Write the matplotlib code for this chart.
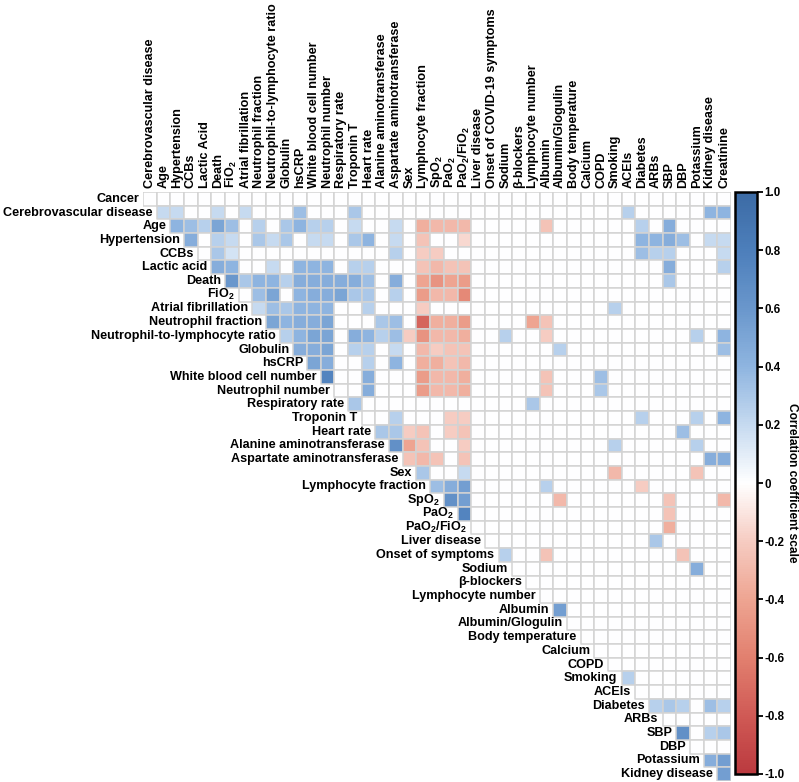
import matplotlib
matplotlib.use("Agg")
import matplotlib.pyplot as plt
import numpy as np
from matplotlib.colors import LinearSegmentedColormap, Normalize
from matplotlib.patches import Rectangle
from matplotlib.collections import PatchCollection

plt.rcParams['font.family'] = ['Liberation Sans', 'DejaVu Sans']
plt.rcParams['font.weight'] = 'bold'
plt.rcParams['mathtext.fontset'] = 'custom'
plt.rcParams['mathtext.rm'] = 'Liberation Sans:bold'
plt.rcParams['mathtext.bf'] = 'Liberation Sans:bold'
plt.rcParams['mathtext.it'] = 'Liberation Sans:bold:italic'

row_labels = ["Cancer", "Cerebrovascular disease", "Age", "Hypertension", "CCBs",
              "Lactic acid", "Death", "FiO$_2$", "Atrial fibrillation",
              "Neutrophil fraction", "Neutrophil-to-lymphocyte ratio", "Globulin",
              "hsCRP", "White blood cell number", "Neutrophil number",
              "Respiratory rate", "Troponin T", "Heart rate",
              "Alanine aminotransferase", "Aspartate aminotransferase", "Sex",
              "Lymphocyte fraction", "SpO$_2$", "PaO$_2$", "PaO$_2$/FiO$_2$",
              "Liver disease", "Onset of symptoms", "Sodium", "β-blockers",
              "Lymphocyte number", "Albumin", "Albumin/Glogulin", "Body temperature",
              "Calcium", "COPD", "Smoking", "ACEIs", "Diabetes", "ARBs", "SBP",
              "DBP", "Potassium", "Kidney disease"]

col_labels = ["Cerebrovascular disease", "Age", "Hypertension", "CCBs", "Lactic Acid",
              "Death", "FiO$_2$", "Atrial fibrillation", "Neutrophil fraction",
              "Neutrophil-to-lymphocyte ratio", "Globulin", "hsCRP",
              "White blood cell number", "Neutrophil number", "Respiratory rate",
              "Troponin T", "Heart rate", "Alanine aminotransferase",
              "Aspartate aminotransferase", "Sex", "Lymphocyte fraction", "SpO$_2$",
              "PaO$_2$", "PaO$_2$/FiO$_2$", "Liver disease",
              "Onset of COVID-19 symptoms", "Sodium", "β-blockers",
              "Lymphocyte number", "Albumin", "Albumin/Glogulin", "Body temperature",
              "Calcium", "COPD", "Smoking", "ACEIs", "Diabetes", "ARBs", "SBP", "DBP",
              "Potassium", "Kidney disease", "Creatinine"]

# one dict per row: column index -> correlation (cells not listed are ~0)
corr = [
    {},
    {1: .2, 2: .2, 5: .2, 7: .2, 11: .35, 15: .3, 35: .25, 41: .4, 42: .4},
    {2: .4, 3: .35, 4: .25, 5: .5, 6: .35, 8: .25, 10: .3, 11: .4, 12: .25, 13: .25,
     15: .2, 18: .2, 20: -.35, 21: -.3, 22: -.3, 23: -.3, 29: -.25, 36: .25, 38: .45},
    {3: .45, 5: .25, 6: .2, 8: .3, 9: .2, 10: .3, 12: .2, 13: .2, 15: .3, 16: .4,
     18: .2, 20: -.25, 23: -.15, 36: .4, 37: .4, 38: .45, 39: .35, 41: .2, 42: .2},
    {5: .3, 6: .15, 18: .25, 20: -.2, 21: -.2, 36: .35, 37: .25, 38: .25, 42: .2},
    {5: .45, 6: .4, 9: .2, 11: .4, 12: .4, 13: .4, 15: .25, 16: .25, 20: -.25,
     21: -.3, 22: -.25, 23: -.25, 38: .45, 42: .25},
    {6: .6, 7: .3, 8: .4, 9: .4, 10: .25, 11: .45, 12: .45, 13: .45, 14: .45, 15: .45,
     16: .35, 18: .45, 20: -.4, 21: -.5, 22: -.4, 23: -.45, 38: .3},
    {8: .35, 9: .5, 11: .4, 12: .45, 13: .45, 14: .5, 15: .3, 16: .3, 18: .25,
     20: -.45, 21: -.3, 22: -.3, 23: -.55},
    {8: .2, 9: .35, 10: .3, 11: .4, 12: .4, 13: .4, 16: .25, 20: -.2, 34: .25},
    {9: .5, 10: .4, 11: .45, 12: .45, 13: .5, 17: .3, 18: .35, 20: -.75, 21: -.35,
     22: -.35, 23: -.45, 28: -.4, 29: -.25},
    {10: .25, 11: .4, 12: .5, 13: .5, 15: .45, 16: .4, 17: .25, 18: .35, 19: -.2,
     20: -.5, 21: -.3, 22: -.3, 23: -.35, 26: .25, 29: -.2, 40: .25, 42: .4},
    {11: .45, 12: .45, 13: .5, 15: .25, 16: .25, 18: .2, 20: -.3, 21: -.2, 22: -.25,
     23: -.25, 30: .25, 42: .35},
    {12: .5, 13: .45, 16: .25, 18: .4, 20: -.35, 21: -.35, 22: -.25, 23: -.3},
    {13: .75, 16: .45, 20: -.45, 21: -.3, 22: -.3, 23: -.35, 29: -.25, 33: .35},
    {16: .45, 20: -.45, 21: -.3, 22: -.3, 23: -.35, 29: -.25, 33: .3},
    {15: .3, 28: .3},
    {18: .25, 22: -.2, 23: -.2, 36: .25, 40: .25, 42: .4},
    {17: .3, 18: .3, 19: -.2, 20: -.25, 22: -.2, 23: -.25, 39: .35},
    {18: .65, 19: -.4, 20: -.25, 23: -.2, 34: .25, 40: .25},
    {19: -.25, 20: -.3, 21: -.25, 23: -.25, 41: .45, 42: .45},
    {20: .3, 23: .2, 34: -.3, 40: -.25},
    {21: .35, 22: .45, 23: .55, 29: .25, 36: -.2},
    {22: .65, 23: .55, 30: -.3, 38: -.25, 42: -.3},
    {23: .75, 38: -.25},
    {38: -.35},
    {37: .3},
    {26: .25, 29: -.25, 39: -.25},
    {40: .45},
    {},
    {},
    {30: .55},
    {},
    {},
    {},
    {},
    {35: .25},
    {},
    {37: .25, 38: .3, 39: .25, 41: .35, 42: .25},
    {},
    {39: .65, 41: .25, 42: .3},
    {},
    {41: .45, 42: .55},
    {42: .55},
]

cmap = LinearSegmentedColormap.from_list("corr", [
    (0.0, "#bb3a3f"), (0.1, "#d05a55"), (0.2, "#e2806f"), (0.3, "#eea592"),
    (0.4, "#f6ccc2"), (0.5, "#ffffff"), (0.6, "#c6daf0"), (0.7, "#8fb5e0"),
    (0.8, "#6a97cc"), (0.9, "#4d7fbb"), (1.0, "#3c6ba5")])
norm = Normalize(-1, 1)

fig = plt.figure(figsize=(7.99, 7.82), dpi=100)
W, H = 799, 782
ax = fig.add_axes([143 / W, 1 - 781 / H, 588 / W, 589 / H])

n_cols = len(col_labels)
rects, vals = [], []
for i, row in enumerate(corr):
    for j in range(i, n_cols):
        rects.append(Rectangle((j, i), 1, 1))
        vals.append(row.get(j, 0.0))
pc = PatchCollection(rects, cmap=cmap, norm=norm, edgecolor="#d3d3d3", linewidth=1.1)
pc.set_array(np.array(vals))
ax.add_collection(pc)

ax.set_xlim(0, n_cols)
ax.set_ylim(len(row_labels), 0)
ax.axis("off")

fs = 9.1
for i, lab in enumerate(row_labels):
    ax.text(i - 0.3, i + 0.5, lab, ha="right", va="center", fontsize=fs,
            fontweight="bold")
for j, lab in enumerate(col_labels):
    ax.text(j + 0.5, -0.3, lab, ha="center", va="bottom", rotation=90,
            fontsize=fs, fontweight="bold")

cax = fig.add_axes([735 / W, 1 - 774 / H, 22 / W, 582 / H])
cb = fig.colorbar(pc, cax=cax)
cb.outline.set_linewidth(1.8)
ticks = np.round(np.arange(-1, 1.01, 0.2), 1)
cb.set_ticks(ticks)
cb.set_ticklabels(["0" if t == 0 else f"{t:.1f}" for t in ticks])
cax.tick_params(length=4, width=1.3, labelsize=8.3, pad=1.5)
for t in cax.get_yticklabels():
    t.set_fontweight("bold")
fig.text(0.991, 1 - 483 / H, "Correlation coefficient scale", rotation=270,
         ha="center", va="center", fontsize=8.6, fontweight="bold")

fig.savefig("out.png", dpi=100)
